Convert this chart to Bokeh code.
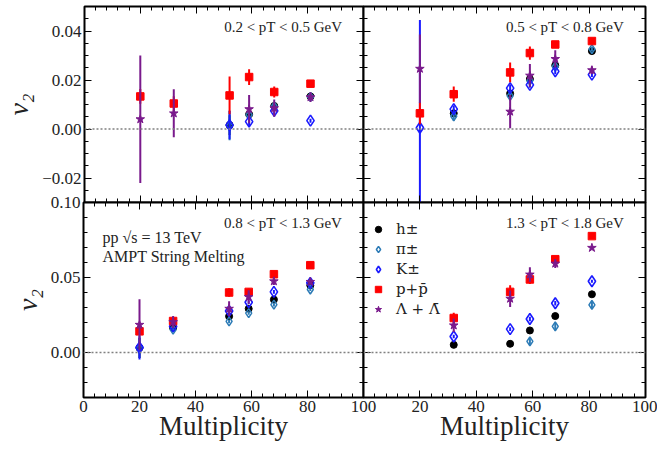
from bokeh.plotting import figure
from bokeh.layouts import row, column
from bokeh.models import (LinearAxis, FixedTicker, Span, Label, Legend, LegendItem,
                          ColumnDataSource, CustomJSTickFormatter)
from bokeh.embed import file_html
from bokeh.resources import INLINE

nan = float("nan")

# ---------------- data ----------------
mult = [20, 32, 52, 59, 68, 81]

pt_bins = ["0.2 < pT < 0.5 GeV", "0.5 < pT < 0.8 GeV",
           "0.8 < pT < 1.3 GeV", "1.3 < pT < 1.8 GeV"]

species = ["h±", "π±", "K±", "p+p̄", "Λ + Λ̄"]

# panel 1 : 0.2 < pT < 0.5
h_1 = [nan, nan, 0.0016, 0.0060, 0.0094, 0.0133]
h_1_err = [nan, nan, 0.0040, 0.0015, 0.0015, 0.0012]
pi_1 = [nan, nan, 0.0014, 0.0058, 0.0092, 0.0131]
pi_1_err = [nan, nan, 0.0060, 0.0020, 0.0015, 0.0012]
k_1 = [nan, nan, 0.0016, 0.0030, 0.0074, 0.0034]
k_1_err = [nan, nan, 0.0058, 0.0018, 0.0015, 0.0008]
p_1 = [0.0133, 0.0104, 0.0137, 0.0212, 0.0151, 0.0185]
p_1_err = [0.0030, 0.0030, 0.0077, 0.0032, 0.0022, 0.0010]
l_1 = [0.0040, 0.0064, nan, 0.0081, 0.0085, 0.0130]
l_1_err = [0.0260, 0.0098, nan, 0.0058, 0.0035, 0.0020]

# panel 2 : 0.5 < pT < 0.8
h_2 = [nan, 0.0064, 0.0145, 0.0204, 0.0260, 0.0318]
h_2_err = [nan, 0.0015, 0.0015, 0.0012, 0.0012, 0.0010]
pi_2 = [nan, 0.0052, 0.0135, 0.0198, 0.0255, 0.0326]
pi_2_err = [nan, 0.0018, 0.0015, 0.0012, 0.0012, 0.0010]
k_2 = [0.0005, 0.0081, 0.0167, 0.0180, 0.0235, 0.0222]
k_2_err = [0.0440, 0.0015, 0.0015, 0.0012, 0.0012, 0.0010]
p_2 = [0.0064, 0.0142, 0.0231, 0.0310, 0.0345, 0.0359]
p_2_err = [0.0045, 0.0031, 0.0040, 0.0027, 0.0012, 0.0010]
l_2 = [0.0246, nan, 0.0071, 0.0218, 0.0286, 0.0240]
l_2_err = [0.0140, nan, 0.0068, 0.0047, 0.0035, 0.0015]

# panel 3 : 0.8 < pT < 1.3
h_3 = [0.0031, 0.0165, 0.0241, 0.0292, 0.0353, 0.0448]
h_3_err = [0.0067, 0.0015, 0.0012, 0.0010, 0.0010, 0.0010]
pi_3 = [0.0030, 0.0152, 0.0207, 0.0263, 0.0319, 0.0420]
pi_3_err = [0.0067, 0.0015, 0.0012, 0.0012, 0.0012, 0.0010]
k_3 = [0.0033, 0.0174, 0.0277, 0.0335, 0.0404, 0.0464]
k_3_err = [0.0080, 0.0015, 0.0012, 0.0012, 0.0012, 0.0010]
p_3 = [0.0141, 0.0210, 0.0400, 0.0404, 0.0522, 0.0582]
p_3_err = [0.0020, 0.0020, 0.0028, 0.0022, 0.0015, 0.0010]
l_3 = [0.0185, 0.0203, 0.0292, 0.0370, 0.0475, 0.0471]
l_3_err = [0.0170, 0.0040, 0.0050, 0.0045, 0.0025, 0.0020]

# panel 4 : 1.3 < pT < 1.8
h_4 = [nan, 0.0051, 0.0058, 0.0147, 0.0243, 0.0388]
h_4_err = [nan, 0.0010, 0.0010, 0.0010, 0.0010, 0.0010]
pi_4 = [nan, nan, nan, 0.0074, 0.0174, 0.0317]
pi_4_err = [nan, nan, nan, 0.0025, 0.0025, 0.0025]
k_4 = [nan, 0.0107, 0.0156, 0.0223, 0.0328, 0.0475]
k_4_err = [nan, 0.0012, 0.0012, 0.0015, 0.0015, 0.0010]
p_4 = [nan, 0.0230, 0.0404, 0.0487, 0.0622, 0.0776]
p_4_err = [nan, 0.0035, 0.0045, 0.0030, 0.0015, 0.0010]
l_4 = [nan, 0.0181, 0.0359, 0.0520, 0.0593, 0.0698]
l_4_err = [nan, 0.0045, 0.0055, 0.0048, 0.0030, 0.0010]

top_yrange = (-0.03, 0.05)
bot_yrange = (-0.03, 0.10)
top_yticks = [-0.02, 0.0, 0.02, 0.04]
bot_yticks = [0.0, 0.05, 0.10]
xticks = [0, 20, 40, 60, 80, 100]

# ---------------- styling ----------------
FONT = "Liberation Serif"
LEGEND_FONT = "DejaVu Serif"
COLORS = ["black", "#2c7bb6", "#1a1aff", "#ff0000", "#7a1a8c"]
FILL_ALPHA = [1.0, 0.0, 0.0, 1.0, 1.0]
MARKERS = ["circle", "diamond", "diamond", "square", "star"]
SIZES = [7, 9, 11, 7.5, 9]
LWIDTH = [1, 1.5, 1.6, 1, 1]

fmt_y = CustomJSTickFormatter(code="return tick.toFixed(2).replace('-', '\u2212');")
fmt_x = CustomJSTickFormatter(code="return tick.toFixed(0);")
fmt_none = CustomJSTickFormatter(code="return '';")


def style_axis(ax, labeled, fmt):
    ax.major_tick_in = 7
    ax.major_tick_out = 0
    ax.minor_tick_in = 4
    ax.minor_tick_out = 0
    ax.axis_line_color = None
    ax.major_tick_line_color = "black"
    ax.minor_tick_line_color = "black"
    ax.major_tick_line_width = 1
    ax.minor_tick_line_width = 1
    if labeled:
        ax.formatter = fmt
        ax.major_label_text_font = FONT
        ax.major_label_text_font_size = "17px"
        ax.major_label_text_color = "#222222"
        ax.major_label_standoff = 3
    else:
        ax.formatter = fmt_none
        ax.major_label_text_font_size = "0px"
        ax.major_label_standoff = 0


def make_panel(width, height, borders, yr, yticks, yminor_step, data,
               label_text, ylab, xlab, xlabels, left_labels):
    bl, br, bt, bb = borders
    p = figure(width=width, height=height, x_range=(0, 100), y_range=yr,
               output_backend="svg", toolbar_location=None,
               min_border_left=bl, min_border_right=br,
               min_border_top=bt, min_border_bottom=bb,
               x_axis_location=None, y_axis_location=None)
    p.grid.visible = False
    p.outline_line_color = "black"
    p.outline_line_width = 2
    p.border_fill_alpha = 0
    p.background_fill_color = "white"

    ymin, ymax = yr
    n = int(round((ymax - ymin) / yminor_step))
    yminor = [round(ymin + i * yminor_step, 4) for i in range(n + 1)]
    xminor = list(range(0, 101, 4))

    yl = LinearAxis(ticker=FixedTicker(ticks=yticks, minor_ticks=yminor))
    style_axis(yl, left_labels, fmt_y)
    if ylab:
        yl.axis_label = "v₂"
        yl.axis_label_text_font = FONT
        yl.axis_label_text_font_style = "italic"
        yl.axis_label_text_font_size = "28px"
        yl.axis_label_text_color = "#222222"
        yl.axis_label_standoff = 5
    p.add_layout(yl, "left")
    yr_ax = LinearAxis(ticker=FixedTicker(ticks=yticks, minor_ticks=yminor))
    style_axis(yr_ax, False, fmt_y)
    p.add_layout(yr_ax, "right")

    xb = LinearAxis(ticker=FixedTicker(ticks=xlabels if xlab else xticks,
                                       minor_ticks=xminor))
    style_axis(xb, xlab, fmt_x)
    if xlab:
        xb.axis_label = "Multiplicity"
        xb.axis_label_text_font = FONT
        xb.axis_label_text_font_style = "normal"
        xb.axis_label_text_font_size = "27px"
        xb.axis_label_text_color = "#222222"
        xb.axis_label_standoff = -4
    p.add_layout(xb, "below")
    xa = LinearAxis(ticker=FixedTicker(ticks=xticks, minor_ticks=xminor))
    style_axis(xa, False, fmt_x)
    p.add_layout(xa, "above")

    p.add_layout(Span(location=0, dimension="width", line_color="#808080",
                      line_dash="2 2", line_width=1.5))

    renderers = []
    for i, (vals, errs) in enumerate(data):
        lo = [v - e for v, e in zip(vals, errs)]
        hi = [v + e for v, e in zip(vals, errs)]
        src = ColumnDataSource(dict(x=mult, y=vals, lo=lo, hi=hi))
        p.segment(x0="x", y0="lo", x1="x", y1="hi", source=src,
                  line_color=COLORS[i], line_width=2)
        r = p.scatter(x="x", y="y", source=src, marker=MARKERS[i],
                      size=SIZES[i], line_color=COLORS[i], fill_color=COLORS[i],
                      fill_alpha=FILL_ALPHA[i], line_width=LWIDTH[i])
        renderers.append(r)

    ytop = ymax - 20.0 / ((height - bt - bb) / (ymax - ymin))
    p.add_layout(Label(x=92.4, y=ytop, text=label_text, text_align="right",
                       text_baseline="middle", text_font=FONT,
                       text_font_size="15px", text_color="#222222"))
    return p, renderers


W_L, W_R = 378, 309
H_T, H_B = 214, 257

tl, _ = make_panel(W_L, H_T, (83, 15, 6, 12), top_yrange, top_yticks, 0.005,
                   [(h_1, h_1_err), (pi_1, pi_1_err), (k_1, k_1_err),
                    (p_1, p_1_err), (l_1, l_1_err)],
                   pt_bins[0], True, False, None, True)
tr, _ = make_panel(W_R, H_T, (15, 12, 6, 12), top_yrange, top_yticks, 0.005,
                   [(h_2, h_2_err), (pi_2, pi_2_err), (k_2, k_2_err),
                    (p_2, p_2_err), (l_2, l_2_err)],
                   pt_bins[1], False, False, None, False)
bl, _ = make_panel(W_L, H_B, (83, 15, 12, 50), bot_yrange, bot_yticks, 0.01,
                   [(h_3, h_3_err), (pi_3, pi_3_err), (k_3, k_3_err),
                    (p_3, p_3_err), (l_3, l_3_err)],
                   pt_bins[2], True, True, xticks, True)
br, rends = make_panel(W_R, H_B, (15, 12, 12, 50), bot_yrange, bot_yticks, 0.01,
                       [(h_4, h_4_err), (pi_4, pi_4_err), (k_4, k_4_err),
                        (p_4, p_4_err), (l_4, l_4_err)],
                       pt_bins[3], False, True, xticks[1:], False)

bl.add_layout(Label(x=6.8, y=0.077, text="pp √s = 13 TeV", text_align="left",
                    text_baseline="middle", text_font=FONT,
                    text_font_size="16px", text_color="#222222"))
bl.add_layout(Label(x=6.8, y=0.0643, text="AMPT String Melting", text_align="left",
                    text_baseline="middle", text_font=FONT,
                    text_font_size="16px", text_color="#222222"))

legend = Legend(items=[LegendItem(label=s, renderers=[r]) for s, r in zip(species, rends)],
                location=(7, 78), border_line_color=None, background_fill_alpha=0,
                label_text_font=LEGEND_FONT, label_text_font_size="15px",
                label_text_color="#222222",
                glyph_width=16, glyph_height=20, label_height=20, spacing=0,
                padding=0, margin=0, label_standoff=10)
br.add_layout(legend)

tr.margin = (0, 0, 0, -30)
br.margin = (0, 0, 0, -30)
layout = column(row(tl, tr), row(bl, br, margin=(-24, 0, 0, 0)))

open("out.html", "w").write(file_html(layout, INLINE))
